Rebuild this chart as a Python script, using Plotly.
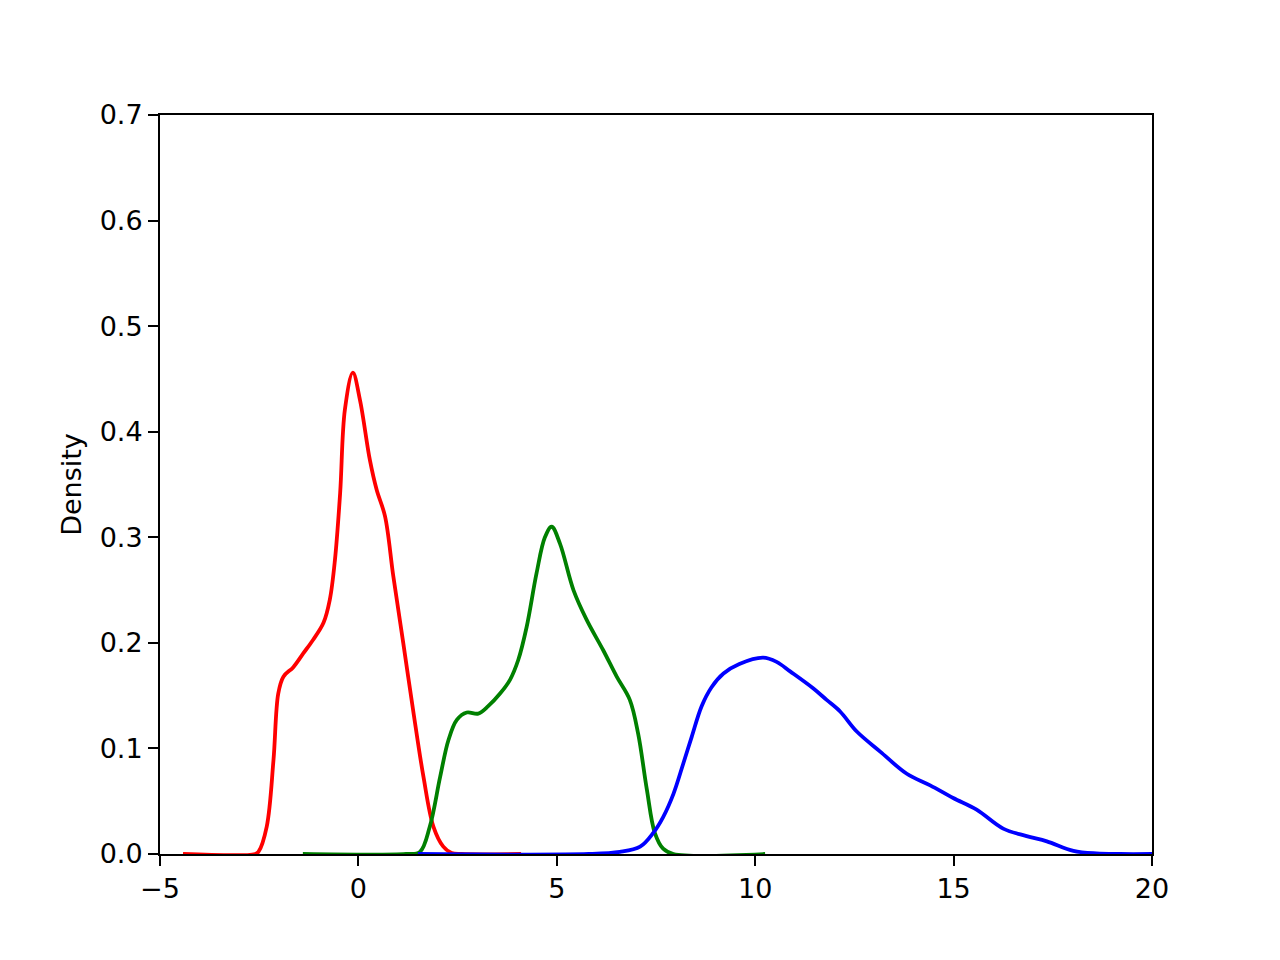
import plotly.graph_objects as go

# Series data
red_x = [-4.42, -2.6, -2.52, -2.31, -2.14, -2.02, -1.89, -1.64, -1.39, -1.14, -0.88, -0.72, -0.59, -0.46,
         -0.34, -0.14, 0.04, 0.29, 0.46, 0.67, 0.88, 1.13, 1.38, 1.64, 1.89, 2.14, 2.35, 2.6, 4.1]
red_y = [0, 0, 0.002, 0.026, 0.089, 0.152, 0.168, 0.177, 0.19, 0.203, 0.219, 0.241, 0.279, 0.342,
         0.421, 0.456, 0.43, 0.373, 0.345, 0.32, 0.263, 0.2, 0.136, 0.073, 0.026, 0.007, 0.001, 0, 0]

green_x = [-1.4, 1.2, 1.55, 1.80, 2.06, 2.27, 2.48, 2.73, 3.02, 3.27, 3.57, 3.82, 4.03, 4.24, 4.49,
           4.70, 4.87, 5.08, 5.42, 5.75, 6.17, 6.51, 6.84, 7.05, 7.27, 7.47, 7.68, 7.94, 10.25]
green_y = [0, 0, 0.002, 0.026, 0.073, 0.108, 0.127, 0.134, 0.133, 0.14, 0.152, 0.165, 0.184, 0.215, 0.266,
           0.3, 0.31, 0.294, 0.25, 0.222, 0.193, 0.168, 0.146, 0.114, 0.061, 0.02, 0.005, 0, 0]

blue_x = [1.5, 5.8, 6.59, 7.10, 7.43, 7.68, 7.94, 8.19, 8.40, 8.65, 8.90, 9.20, 9.60, 10.20, 10.54,
          10.88, 11.46, 11.80, 12.14, 12.56, 13.15, 13.82, 14.41, 14.99, 15.58, 16.25, 16.84, 17.35,
          18.02, 18.6, 19.2, 20]
blue_y = [0, 0, 0.002, 0.007, 0.02, 0.035, 0.057, 0.086, 0.111, 0.14, 0.158, 0.171, 0.180, 0.186, 0.182,
          0.173, 0.157, 0.146, 0.135, 0.116, 0.097, 0.076, 0.065, 0.053, 0.042, 0.024, 0.017, 0.012,
          0.003, 0.0005, 0, 0]

x_ticks = [-5, 0, 5, 10, 15, 20]
x_tick_labels = ["\u22125", "0", "5", "10", "15", "20"]
y_ticks = [0.0, 0.1, 0.2, 0.3, 0.4, 0.5, 0.6, 0.7]
y_tick_labels = ["0.0", "0.1", "0.2", "0.3", "0.4", "0.5", "0.6", "0.7"]

fig = go.Figure()
for xs, ys, col in [(red_x, red_y, "#ff0000"), (green_x, green_y, "#008000"), (blue_x, blue_y, "#0000ff")]:
    fig.add_trace(go.Scatter(x=xs, y=ys, mode="lines",
                             line=dict(color=col, width=3.8, shape="spline", smoothing=1.0),
                             showlegend=False, hoverinfo="skip"))

font = dict(family="DejaVu Sans", size=27, color="black")
fig.update_layout(
    width=1280, height=960,
    margin=dict(l=152, r=136, t=107, b=114),
    paper_bgcolor="white", plot_bgcolor="white",
    font=font,
)
fig.update_xaxes(range=[-5, 20], tickvals=x_ticks, ticktext=x_tick_labels,
                 showgrid=False, zeroline=False, showline=True, mirror=True,
                 linecolor="black", linewidth=2, ticks="outside", ticklen=10, tickwidth=2,
                 tickcolor="black", tickfont=font)
fig.update_yaxes(range=[0, 0.7], tickvals=y_ticks, ticktext=y_tick_labels,
                 showgrid=False, zeroline=False, showline=True, mirror=True,
                 linecolor="black", linewidth=2, ticks="outside", ticklen=10, tickwidth=2,
                 tickcolor="black", tickfont=font,
                 title=dict(text="Density", font=font, standoff=10))

fig.write_html("out.html")
